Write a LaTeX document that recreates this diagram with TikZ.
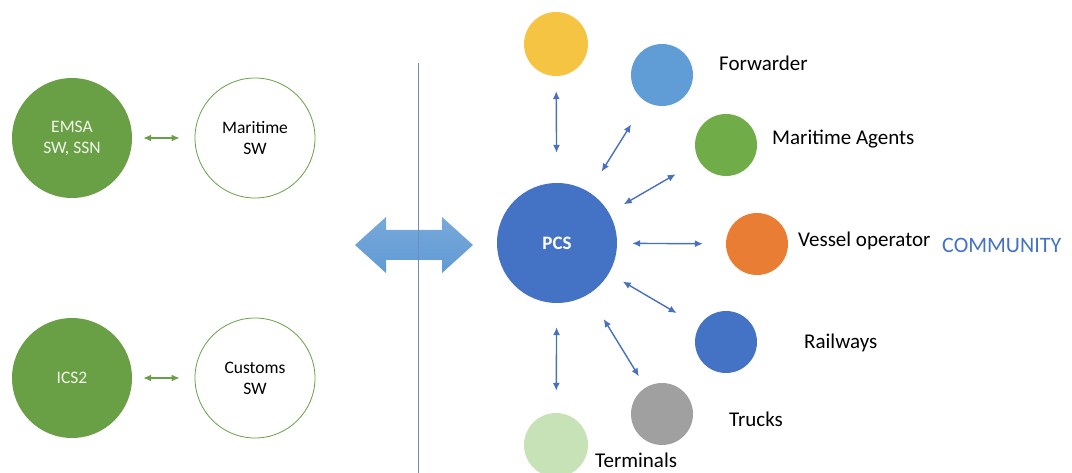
\documentclass[tikz,border=0pt]{standalone}
\usepackage{fontspec}
\setmainfont{Carlito}
\usetikzlibrary{arrows.meta}
\definecolor{swgreen}{RGB}{106,160,69}
\definecolor{pcsblue}{RGB}{68,114,196}
\definecolor{linkblue}{RGB}{72,112,190}
\definecolor{arrowblue}{RGB}{96,154,212}
\definecolor{sepblue}{RGB}{110,140,190}

\begin{document}
\begin{tikzpicture}[x=1pt, y=-1pt, every node/.style={font=\fontsize{21}{24}\selectfont},
  big/.style={circle, minimum size=120pt, inner sep=0pt, align=center, font=\fontsize{17.5}{21}\selectfont},
  small/.style={circle, minimum size=62pt, inner sep=0pt},
  tag/.style={anchor=west, inner sep=0pt},
  link/.style 2 args={{Latex[length=8pt,width=7pt]}-{Latex[length=8pt,width=7pt]}, line width=1.4pt, draw=linkblue, shorten <=#1, shorten >=#2},
  swlink/.style 2 args={{Latex[length=8pt,width=7pt]}-{Latex[length=8pt,width=7pt]}, line width=1.4pt, draw=swgreen, shorten <=#1, shorten >=#2}]
  \useasboundingbox (0,0) rectangle (1072,473);

  % single windows
  \node [big, fill=swgreen, text=white!90!swgreen] (emsa) at (72, 138) {EMSA\\SW, SSN};
  \node [big, draw=swgreen, line width=0.8pt] (mar) at (255, 138) {Maritime\\SW};
  \node [big, fill=swgreen, text=white!90!swgreen] (ics) at (72, 378) {ICS2};
  \node [big, draw=swgreen, line width=0.8pt] (cus) at (255, 378) {Customs\\SW};
  \draw [swlink={11pt}{15pt}] (emsa) -- (mar);
  \draw [swlink={11pt}{15pt}] (ics) -- (cus);

  % big arrow and separator
  \shade [top color=arrowblue!85!white, bottom color=arrowblue] (355, 245) -- (386, 217) -- (386, 230) -- (442, 230) -- (442, 217) -- (473, 245)
    -- (442, 273) -- (442, 260) -- (386, 260) -- (386, 273) -- cycle;
  \draw [sepblue, line width=1pt] (418, 63) -- (418, 473);

  % port community
  \node [big, fill=pcsblue, text=white, font=\fontsize{19}{22}\selectfont\bfseries] (pcs) at (557, 243) {PCS};
  \node [small, fill={rgb,255:red,245;green,196;blue,66}, minimum size=64pt] (yel) at (556, 44) {};
  \node [small, fill={rgb,255:red,96;green,156;blue,214}] (fwd) at (662, 75) {};
  \node [small, fill={rgb,255:red,112;green,172;blue,72}] (agt) at (726, 145) {};
  \node [small, fill={rgb,255:red,234;green,125;blue,52}] (ves) at (757, 244) {};
  \node [small, fill=pcsblue] (rail) at (726, 342) {};
  \node [small, fill={rgb,255:red,160;green,160;blue,160}] (trk) at (662, 414) {};
  \node [small, fill={rgb,255:red,200;green,226;blue,184}, minimum size=64pt] (ter) at (556, 445) {};

  \node [tag] (fwdl) at (719, 63) {Forwarder};
  \node [tag] (agtl) at (772, 139) {Maritime Agents};
  \node [tag] (vesl) at (798, 241) {Vessel operator};
  \node [tag, text=pcsblue, font=\fontsize{22}{24}\selectfont] (comm) at (942, 245) {COMMUNITY};
  \node [tag] (raill) at (804, 343) {Railways};
  \node [tag] (trkl) at (729, 419) {Trucks};
  \node [tag] (terl) at (595, 460) {Terminals};

  \draw [link={30pt}{15pt}] (pcs) -- (yel);
  \draw [link={24pt}{27pt}] (pcs) -- (fwd);
  \draw [link={17pt}{27pt}] (pcs) -- (agt);
  \draw [link={15pt}{23pt}] (pcs) -- (ves);
  \draw [link={16pt}{26pt}] (pcs) -- (rail);
  \draw [link={29pt}{13pt}] (pcs) -- (trk);
  \draw [link={24pt}{22pt}] (pcs) -- (ter);
\end{tikzpicture}
\end{document}
